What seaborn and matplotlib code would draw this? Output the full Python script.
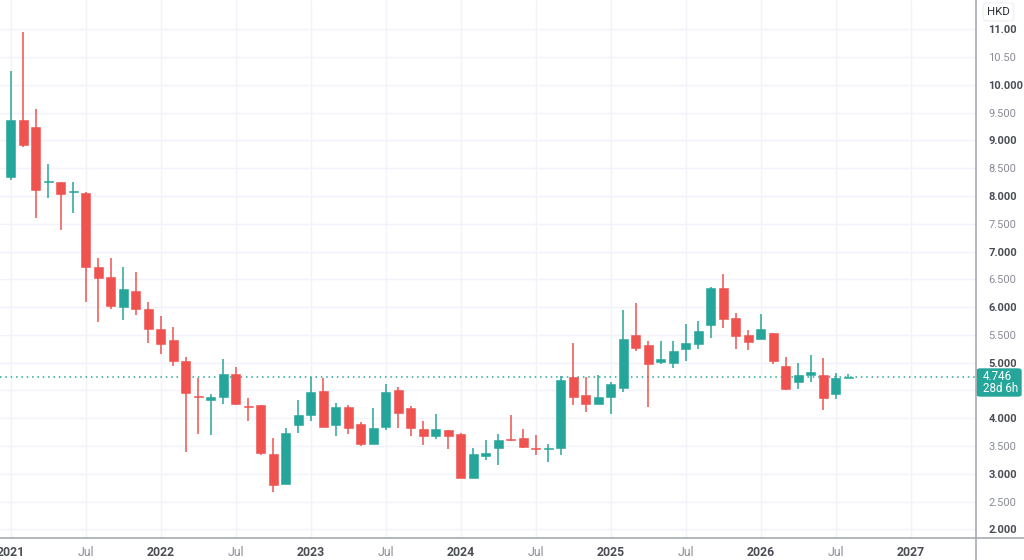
import numpy as np
import pandas as pd
import matplotlib
matplotlib.use("Agg")
import matplotlib.pyplot as plt
from matplotlib.patches import FancyBboxPatch
import seaborn as sns

# monthly candles, Jan 2021 .. Aug 2026
months = pd.date_range("2021-01-01", "2026-08-01", freq="MS")
opens = [8.35, 9.36, 9.24, 8.25, 8.25, 8.08, 8.06, 6.73, 6.54, 6.01, 6.29, 5.96,
         5.61, 5.40, 5.03, 4.39, 4.32, 4.39, 4.80, 4.21, 4.23, 3.35, 2.82, 3.87,
         4.06, 4.49, 3.87, 4.20, 3.89, 3.53, 3.85, 4.50, 4.19, 3.80, 3.68, 3.79,
         3.71, 2.93, 3.32, 3.47, 3.61, 3.65, 3.46, 3.44, 3.46, 4.74, 4.42, 4.25,
         4.38, 4.55, 5.50, 5.31, 5.01, 5.00, 5.25, 5.34, 5.68, 6.35, 5.81, 5.49,
         5.42, 5.53, 4.94, 4.66, 4.78, 4.77, 4.44, 4.73]
highs = [10.25, 10.96, 9.56, 8.58, 8.26, 8.26, 8.07, 6.88, 6.88, 6.72, 6.64, 6.09,
         5.84, 5.65, 5.10, 4.72, 4.44, 5.06, 4.92, 4.36, 4.23, 3.65, 3.82, 4.32,
         4.74, 4.73, 4.27, 4.23, 3.94, 4.19, 4.61, 4.57, 4.22, 3.95, 4.08, 3.79,
         3.73, 3.47, 3.61, 3.72, 4.06, 3.80, 3.70, 3.54, 4.76, 5.36, 4.74, 4.77,
         4.65, 5.95, 6.07, 5.39, 5.39, 5.39, 5.69, 5.75, 6.36, 6.59, 5.90, 5.58,
         5.87, 5.53, 5.11, 4.99, 5.13, 5.08, 4.81, 4.79]
lows = [8.28, 8.89, 7.61, 7.96, 7.39, 7.70, 6.09, 5.74, 5.96, 5.77, 5.86, 5.35,
        5.16, 4.94, 3.40, 3.71, 3.69, 4.26, 4.24, 3.95, 3.33, 2.68, 2.81, 3.74,
        3.95, 3.84, 3.68, 3.71, 3.50, 3.53, 3.78, 3.83, 3.68, 3.52, 3.63, 3.45,
        2.92, 2.92, 3.24, 3.16, 3.59, 3.47, 3.34, 3.22, 3.34, 4.23, 4.11, 4.25,
        4.08, 4.47, 5.21, 4.20, 4.97, 4.90, 5.03, 5.25, 5.45, 5.62, 5.25, 5.22,
        5.42, 4.98, 4.50, 4.52, 4.65, 4.14, 4.34, 4.73]
closes = [9.36, 8.92, 8.11, 8.26, 8.04, 8.09, 6.72, 6.52, 6.02, 6.32, 5.96, 5.60,
          5.33, 5.03, 4.46, 4.38, 4.39, 4.79, 4.26, 4.20, 3.38, 2.79, 3.74, 4.06,
          4.47, 3.85, 4.21, 3.83, 3.53, 3.82, 4.47, 4.09, 3.83, 3.68, 3.81, 3.68,
          2.92, 3.35, 3.38, 3.61, 3.60, 3.48, 3.45, 3.47, 4.68, 4.39, 4.26, 4.38,
          4.62, 5.42, 5.27, 4.97, 5.06, 5.21, 5.35, 5.57, 6.34, 5.79, 5.48, 5.38,
          5.60, 5.03, 4.53, 4.77, 4.83, 4.37, 4.72, 4.746]

last_price = 4.746
countdown = "28d 6h"
price_ticks = np.arange(2.0, 11.01, 0.5)
price_labels = ["2.000", "2.500", "3.000", "3.500", "4.000", "", "5.000", "5.500",
                "6.000", "6.500", "7.000", "7.500", "8.000", "8.500", "9.000",
                "9.500", "10.000", "10.50", "11.00"]
time_ticks = np.arange(0, 73, 6)
time_labels = ["2021", "Jul", "2022", "Jul", "2023", "Jul", "2024", "Jul",
               "2025", "Jul", "2026", "Jul", "2027"]

df = pd.DataFrame({"month": months, "open": opens, "high": highs,
                   "low": lows, "close": closes})
df["idx"] = np.arange(len(df))
df["up"] = df["close"] >= df["open"]

UP, DOWN = "#26a69a", "#ef5350"
GRID = "#f0f3fa"
AXIS = "#a7aab3"

sns.set_theme(style="white")
plt.rcParams["font.family"] = ["Roboto", "DejaVu Sans"]

fig = plt.figure(figsize=(10.24, 5.6), dpi=100)
ax = fig.add_axes([0, 1 - 537.7 / 560, 976 / 1024, 537.7 / 560])

colors = np.where(df["up"], UP, DOWN)
body_low = df[["open", "close"]].min(axis=1)
body_h = (df["close"] - df["open"]).abs().clip(lower=0.018)

ax.vlines(df["idx"], df["low"], df["high"], colors=colors, lw=1.1, zorder=2)
ax.bar(df["idx"], body_h, bottom=body_low, width=0.72, color=colors,
       edgecolor=colors, linewidth=0.4, zorder=3)

ax.axhline(last_price, color=UP, lw=1.1, ls=(0, (1, 2.5)), zorder=1)

ax.set_xlim(-0.856, 77.22)
ax.set_ylim(1.849, 11.527)

ax.set_xticks(time_ticks)
ax.set_xticklabels(time_labels)
ax.yaxis.tick_right()
ax.set_yticks(price_ticks)
ax.set_yticklabels(price_labels)
ax.tick_params(axis="x", length=0, pad=6, labelsize=8.8)
ax.tick_params(axis="y", length=0, pad=9, labelsize=8.0)
for lab in ax.get_xticklabels():
    if lab.get_text() == "Jul":
        lab.set_color("#8a8d96")
    else:
        lab.set_color("#4a4d55")
        lab.set_fontweight("bold")
for v, lab in zip(price_ticks, ax.get_yticklabels()):
    lab.set_horizontalalignment("left")
    if float(v).is_integer():
        lab.set_color("#4a4d55")
        lab.set_fontweight("bold")
    else:
        lab.set_color("#8a8d96")

ax.grid(True, color=GRID, lw=1)
ax.set_axisbelow(True)
for side in ["left", "top", "right", "bottom"]:
    ax.spines[side].set_visible(False)

# axis borders that run into the scale areas
fig.add_artist(plt.Line2D([0, 1], [1 - 537.7 / 560] * 2, color=AXIS, lw=1.2,
                          transform=fig.transFigure))
fig.add_artist(plt.Line2D([976 / 1024] * 2, [0, 1], color=AXIS, lw=1.2,
                          transform=fig.transFigure))

# last price box
box = FancyBboxPatch((977 / 1024, 1 - 396 / 560), 44 / 1024, 27 / 560,
                     boxstyle="round,pad=0,rounding_size=0.003",
                     transform=fig.transFigure, facecolor=UP, edgecolor=UP)
fig.add_artist(box)
fig.text(983 / 1024, 1 - 376 / 560, f"{last_price:.3f}", color="white",
         fontsize=8.4, va="center", ha="left")
fig.text(983 / 1024, 1 - 389 / 560, countdown, color="white",
         fontsize=8.4, va="center", ha="left")

# currency tag
fig.text(987 / 1024, 1 - 12 / 560, "HKD", color="#2a2e39", fontsize=8.2,
         va="center", ha="left",
         bbox=dict(boxstyle="round,pad=0.35", fc="white", ec="#eceef2", lw=0.8))

fig.savefig("out.png", dpi=100, facecolor="white")
